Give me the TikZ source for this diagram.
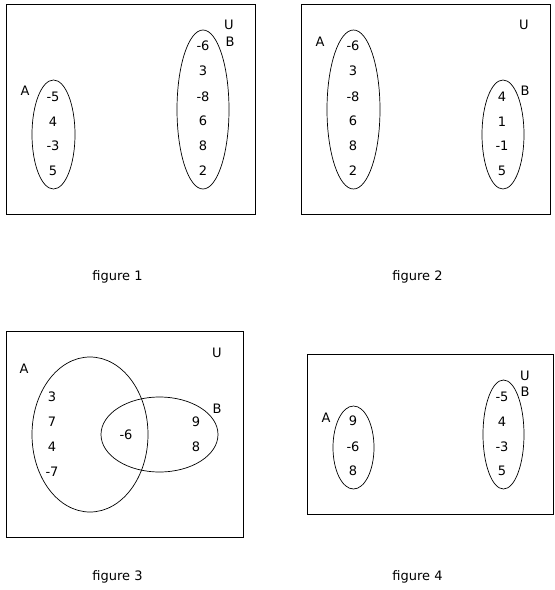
\documentclass[tikz,border=0pt]{standalone}
\usepackage{fontspec}
\setmainfont{DejaVu Sans}
\begin{document}
\begin{tikzpicture}[x=1pt,y=-1pt,
  lbl/.style={font=\fontsize{13}{15}\selectfont, inner sep=0pt},
  frame/.style={draw, line width=0.8pt},
  setline/.style={draw, line width=0.7pt}]
\useasboundingbox (0,0) rectangle (555,590);
\fill[white] (0,0) rectangle (555,590);
% ---------- figure 1 ----------
\draw[frame] (6,4) rectangle (255,214);
\draw[setline] (53.5,134.5) ellipse [x radius=21.5, y radius=54.5];
\draw[setline] (203,109.5) ellipse [x radius=26, y radius=79.5];
\node[lbl] (f1A) at (25,91) {A};
\node[lbl] (f1U) at (229,25) {U};
\node[lbl] (f1B) at (230,42) {B};
\node[lbl] (f1a1) at (53,97) {-5};
\node[lbl] (f1a2) at (53,122) {4};
\node[lbl] (f1a3) at (53,146) {-3};
\node[lbl] (f1a4) at (53,171) {5};
\node[lbl] (f1b1) at (203,46) {-6};
\node[lbl] (f1b2) at (203,71) {3};
\node[lbl] (f1b3) at (203,97) {-8};
\node[lbl] (f1b4) at (203,121) {6};
\node[lbl] (f1b5) at (203,146) {8};
\node[lbl] (f1b6) at (203,171) {2};
\node[lbl] (cap1) at (117.5,277) {figure 1};
% ---------- figure 2 ----------
\draw[frame] (301,4) rectangle (550,214);
\draw[setline] (353.5,109.5) ellipse [x radius=26.5, y radius=79.5];
\draw[setline] (503,134.5) ellipse [x radius=21, y radius=54.5];
\node[lbl] (f2A) at (320,42) {A};
\node[lbl] (f2U) at (524,25) {U};
\node[lbl] (f2B) at (525,91) {B};
\node[lbl] (f2a1) at (353,46) {-6};
\node[lbl] (f2a2) at (353,71) {3};
\node[lbl] (f2a3) at (353,97) {-8};
\node[lbl] (f2a4) at (353,121) {6};
\node[lbl] (f2a5) at (353,146) {8};
\node[lbl] (f2a6) at (353,171) {2};
\node[lbl] (f2b1) at (502,97) {4};
\node[lbl] (f2b2) at (502,122) {1};
\node[lbl] (f2b3) at (502,146) {-1};
\node[lbl] (f2b4) at (502,171) {5};
\node[lbl] (cap2) at (417.5,277) {figure 2};
% ---------- figure 3 ----------
\draw[frame] (6,331) rectangle (243,537);
\draw[setline] (90,434.5) ellipse [x radius=58, y radius=77.5];
\draw[setline] (159.5,434.5) ellipse [x radius=58.5, y radius=37.5];
\node[lbl] (f3A) at (24,369) {A};
\node[lbl] (f3U) at (217,353) {U};
\node[lbl] (f3B) at (217,409) {B};
\node[lbl] (f3a1) at (52,397) {3};
\node[lbl] (f3a2) at (52,422) {7};
\node[lbl] (f3a3) at (52,447) {4};
\node[lbl] (f3a4) at (52,472) {-7};
\node[lbl] (f3ab) at (126,435) {-6};
\node[lbl] (f3b1) at (196,422) {9};
\node[lbl] (f3b2) at (196,447) {8};
\node[lbl] (cap3) at (117.5,577) {figure 3};
% ---------- figure 4 ----------
\draw[frame] (307,354) rectangle (553,514);
\draw[setline] (353.5,447.5) ellipse [x radius=20.5, y radius=41.5];
\draw[setline] (503.5,434.5) ellipse [x radius=20.5, y radius=54.5];
\node[lbl] (f4A) at (326,418) {A};
\node[lbl] (f4U) at (525,376) {U};
\node[lbl] (f4B) at (525,392) {B};
\node[lbl] (f4a1) at (353,421) {9};
\node[lbl] (f4a2) at (353,447) {-6};
\node[lbl] (f4a3) at (353,471) {8};
\node[lbl] (f4b1) at (502,397) {-5};
\node[lbl] (f4b2) at (502,422) {4};
\node[lbl] (f4b3) at (502,447) {-3};
\node[lbl] (f4b4) at (502,471) {5};
\node[lbl] (cap4) at (417.5,577) {figure 4};
\end{tikzpicture}
\end{document}
